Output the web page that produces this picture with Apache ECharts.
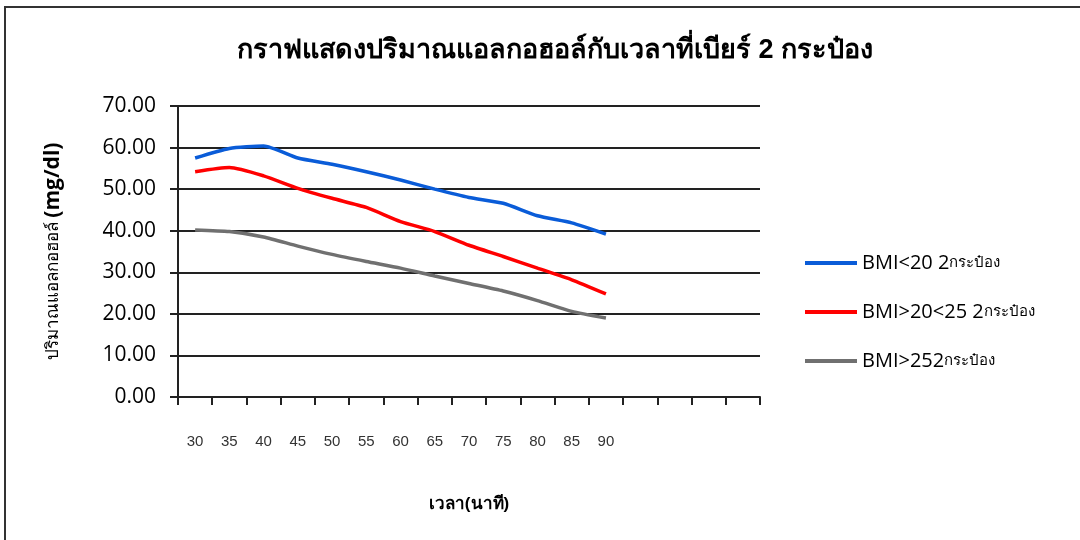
<!DOCTYPE html>
<html>
<head>
<meta charset="utf-8">
<script src="https://cdn.jsdelivr.net/npm/echarts@6/dist/echarts.min.js"></script>
<style>
  html, body { margin: 0; padding: 0; background: #fff; }
  #chart { width: 1080px; height: 540px; }
</style>
</head>
<body>
<div id="chart"></div>
<script>
// Time after drinking (minutes); extra blank slots keep the axis running past 90
const minutes = ['30', '35', '40', '45', '50', '55', '60', '65', '70', '75', '80', '85', '90', '', '', '', ''];

// Blood alcohol (mg/dl) after two cans of beer, by BMI group
const bmiUnder20 = [57.5, 59.8, 60.4, 57.5, 56.0, 54.2, 52.2, 50.0, 48.0, 46.6, 43.6, 41.9, 39.2];
const bmi20to25 = [54.2, 55.2, 53.2, 50.2, 47.8, 45.6, 42.2, 39.8, 36.5, 33.8, 31.0, 28.2, 24.8];
const bmiOver25 = [40.2, 39.8, 38.5, 36.3, 34.3, 32.6, 31.0, 29.1, 27.3, 25.5, 23.2, 20.6, 19.0];

const seriesNames = ['BMI<20 2กระป๋อง', 'BMI>20<25 2กระป๋อง', 'BMI>252กระป๋อง'];
const seriesColors = ['#0a5cd8', '#ff0000', '#707070'];

const yTicks = { min: 0, max: 70, step: 10 };

const thaiFont = '"Liberation Sans", "DejaVu Sans", sans-serif';

const chart = echarts.init(document.getElementById('chart'), null, { renderer: 'canvas' });

const lineSeries = [bmiUnder20, bmi20to25, bmiOver25].map((vals, i) => ({
  name: seriesNames[i],
  type: 'line',
  data: vals,
  smooth: 0.2,
  symbol: 'none',
  lineStyle: { color: seriesColors[i], width: 3.5 },
  itemStyle: { color: seriesColors[i] },
  emphasis: { disabled: true }
}));

chart.setOption({
  animation: false,
  backgroundColor: '#fff',
  title: {
    text: 'กราฟแสดงปริมาณแอลกอฮอล์กับเวลาที่เบียร์ 2 กระป๋อง',
    left: 550,
    top: 32,
    textAlign: 'center',
    textStyle: { fontFamily: thaiFont, fontSize: 27, fontWeight: 'bold', color: '#000' }
  },
  legend: {
    orient: 'vertical',
    left: 800,
    top: 248,
    itemWidth: 52,
    itemHeight: 4,
    itemGap: 29,
    icon: 'rect',
    data: seriesNames,
    formatter: name => name.replace('กระป๋อง', '') + '{s|กระป๋อง}',
    textStyle: {
      fontFamily: '"Open Sans", sans-serif',
      fontSize: 20,
      color: '#000',
      rich: { s: { fontFamily: thaiFont, fontSize: 15, color: '#000' } }
    }
  },
  grid: { left: 178, right: 320, top: 106, bottom: 143, containLabel: false },
  xAxis: {
    type: 'category',
    data: minutes,
    boundaryGap: true,
    name: 'เวลา(นาที)',
    nameLocation: 'middle',
    nameGap: 99,
    nameTextStyle: { fontFamily: thaiFont, fontSize: 17, fontWeight: 'bold', color: '#000' },
    axisLine: { lineStyle: { color: '#222', width: 2 } },
    axisTick: { show: true, length: 8, interval: 0, lineStyle: { color: '#222', width: 2 } },
    axisLabel: {
      interval: 0,
      margin: 37,
      fontFamily: '"Liberation Sans", Arial, sans-serif',
      fontSize: 15,
      color: '#333'
    },
    splitLine: { show: false }
  },
  yAxis: {
    type: 'value',
    min: yTicks.min,
    max: yTicks.max,
    interval: yTicks.step,
    name: '{t|ปริมาณแอลกอฮอล์ }{u|(mg/dl)}',
    nameLocation: 'middle',
    nameGap: 114,
    nameRotate: 90,
    nameTextStyle: {
      color: '#000',
      rich: {
        t: { fontFamily: thaiFont, fontSize: 17, fontWeight: 'normal', color: '#000' },
        u: { fontFamily: '"Open Sans", sans-serif', fontSize: 21, fontWeight: 'bold', color: '#000' }
      }
    },
    axisLine: { show: true, lineStyle: { color: '#222', width: 2 } },
    axisTick: { show: true, length: 8, lineStyle: { color: '#222', width: 2 } },
    axisLabel: {
      margin: 22,
      formatter: v => v.toFixed(2),
      fontFamily: '"Open Sans", sans-serif',
      fontSize: 21,
      color: '#000'
    },
    splitLine: { show: true, lineStyle: { color: '#222', width: 2 } }
  },
  graphic: [
    {
      type: 'polyline',
      shape: { points: [[5, 540], [5, 7], [1080, 7]] },
      style: { stroke: '#333', lineWidth: 2, fill: null },
      silent: true
    }
  ],
  series: lineSeries
});
</script>
</body>
</html>
